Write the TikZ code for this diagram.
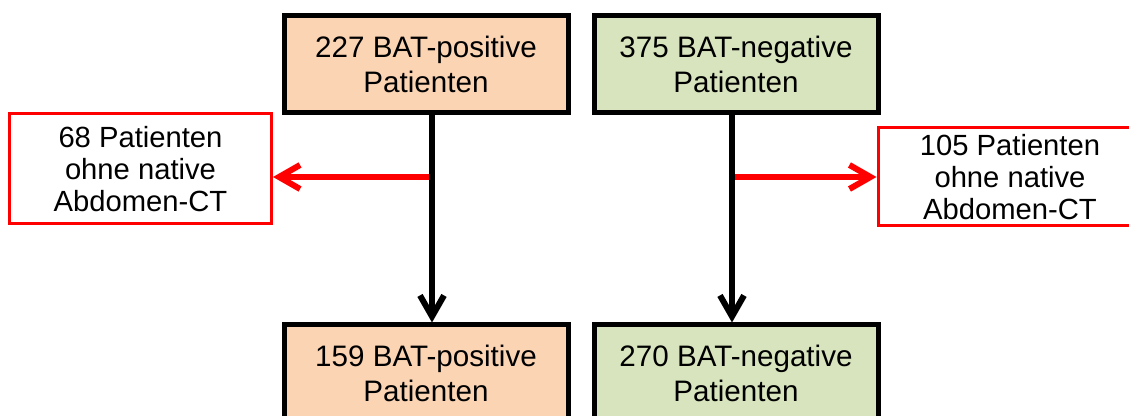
\documentclass[tikz,border=0pt]{standalone}
\usepackage{fontspec}
\setmainfont{Liberation Sans}
\usetikzlibrary{arrows.meta}
\definecolor{peach}{HTML}{FBD4B4}
\definecolor{olive}{HTML}{D7E4BD}
\definecolor{signalred}{HTML}{FF0000}

\begin{document}
\begin{tikzpicture}[x=0.5pt,y=-0.5pt,
	flowbox/.style={draw=black,line width=2.5pt,minimum width=142pt,minimum height=48.5pt,
	inner sep=0pt,align=center,font=\fontsize{14.8}{17.5}\selectfont},
	posbox/.style={flowbox,fill=peach},
	negbox/.style={flowbox,fill=olive},
	exbox/.style={draw=signalred,line width=1.5pt,fill=white,inner sep=0pt,align=center,
	font=\fontsize{14.6}{16.2}\selectfont},
	flowarrow/.style={line width=3pt,-{Straight Barb[length=10.5pt,width=12pt]}},
	exarrow/.style={draw=signalred,line width=3pt,-{Straight Barb[length=10.5pt,width=12pt]}}]
\useasboundingbox (0,0) rectangle (1129,416);
\clip (0,0) rectangle (1129,416);
\node[posbox] (pos-all) at (426,64) {227 BAT-positive\\Patienten};
\node[negbox] (neg-all) at (736,64) {375 BAT-negative\\Patienten};
\node[posbox] (pos-ct) at (426,373.5) {159 BAT-positive\\Patienten};
\node[negbox] (neg-ct) at (736,373.5) {270 BAT-negative\\Patienten};
\node[exbox,minimum width=131pt,minimum height=55pt] (pos-out) at (140.5,169)
	{68 Patienten\\ohne native\\Abdomen-CT};
\node[exbox,minimum width=132pt,minimum height=49pt] (neg-out) at (1010,177)
	{105 Patienten\\ohne native\\Abdomen-CT};
% excluded patients
\draw[exarrow] ([xshift=3pt]pos-all.south |- neg-out) -- (pos-out.east |- neg-out);
\draw[exarrow] ([xshift=-2pt]neg-all.south |- neg-out) -- (neg-out.west);
% remaining patients
\draw[flowarrow] ([xshift=3pt]pos-all.south) -- ([xshift=3pt]pos-ct.north);
\draw[flowarrow] ([xshift=-2pt]neg-all.south) -- ([xshift=-2pt]neg-ct.north);
\end{tikzpicture}
\end{document}
